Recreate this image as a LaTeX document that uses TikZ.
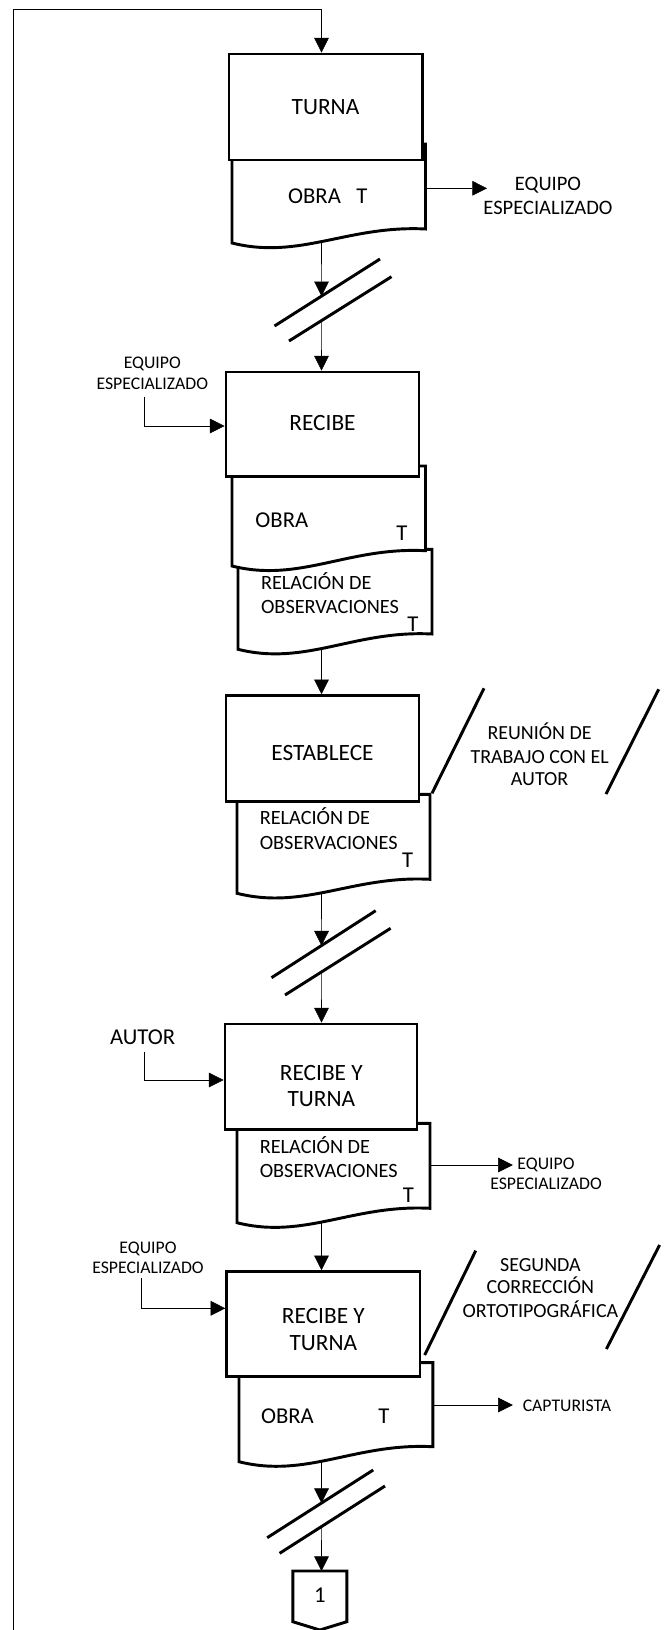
\documentclass[tikz,border=0pt]{standalone}
\usepackage{fontspec}
\setmainfont{Carlito}
\usetikzlibrary{arrows.meta,backgrounds}
\begin{document}
\begin{tikzpicture}[x=0.75pt,y=-0.75pt,line width=2.2pt,
 arr/.style={-{Triangle[length=11pt,width=11pt]}},
 pbox/.style={draw,fill=white,inner sep=0pt},
 doc/.style={draw,fill=white},
 tbox/.style={inner sep=0pt,font=\fontsize{17.5pt}{20pt}\selectfont},
 tdoc/.style={inner sep=0pt,font=\fontsize{17pt}{20pt}\selectfont},
 trel/.style={inner sep=0pt,font=\fontsize{15.2pt}{18pt}\selectfont},
 tnote/.style={inner sep=0pt,font=\fontsize{15pt}{18pt}\selectfont},
 tsmall/.style={inner sep=0pt,font=\fontsize{13.3pt}{16pt}\selectfont},
 tmed/.style={inner sep=0pt,font=\fontsize{15.4pt}{18pt}\selectfont},
]
\useasboundingbox (0,0) rectangle (665,1630);

% ---------- block 1 ----------
\draw[doc] (232,144) -- (425.5,144) -- (425.5,229) .. controls (348.1,225) and (299.7,260) .. (232,243) -- cycle;
\node[pbox,minimum width=145.1pt,minimum height=79.5pt] (B1) at (325.75,107) {};
\node[tbox,anchor=base] (tB1) at (325.5,114.2) {TURNA};
\node[tdoc,anchor=base] (tD1) at (314.5,204) {OBRA};
\node[tdoc,anchor=base] (tD1t) at (362,204) {T};
\node[tmed,anchor=base] (e1a) at (548,190.9) {EQUIPO};
\node[tmed,anchor=base] (e1b) at (548,214.9) {ESPECIALIZADO};
\coordinate (d1r) at (425.5,188.3);
\coordinate (d1e) at (487,188.3);
\coordinate (d1b) at (321.5,233);

% ---------- block 2 ----------
\draw[doc] (238,549.3) -- (432,549.3) -- (432,634) .. controls (354.4,630) and (305.9,666.3) .. (238,649.3) -- cycle;
\draw[doc] (232,466) -- (425.5,466) -- (425.5,550.7) .. controls (348.1,546.7) and (299.7,583) .. (232,566) -- cycle;
\node[pbox,minimum width=144.75pt,minimum height=78.5pt] (B2) at (322.5,424.35) {};
\node[tbox,anchor=base] (tB2) at (322.5,430.8) {RECIBE};
\node[tdoc,anchor=base west] (tD2a) at (254,527.3) {OBRA};
\node[tdoc,anchor=base] (tD2at) at (402,540.6) {T};
\node[trel,anchor=base west] (tD2b1) at (259.6,589.2) {RELACIÓN DE};
\node[trel,anchor=base west] (tD2b2) at (259.6,613.2) {OBSERVACIONES};
\node[tdoc,anchor=base] (tD2bt) at (412.8,631.3) {T};
\node[tsmall,anchor=base] (e2a) at (152.3,368.4) {EQUIPO};
\node[tsmall,anchor=base] (e2b) at (152.3,389) {ESPECIALIZADO};
\coordinate (i2) at (143.8,396.7);
\coordinate (d2b) at (321.5,640);

% ---------- block 3 ----------
\draw[doc] (237,794.3) -- (430,794.3) -- (430,879.3) .. controls (352.8,875.3) and (304.6,910.3) .. (237,893.3) -- cycle;
\node[pbox,minimum width=144.75pt,minimum height=79.5pt] (B3) at (322.5,748.7) {};
\node[tbox,anchor=base] (tB3) at (322.5,760.2) {ESTABLECE};
\node[trel,anchor=base west] (tD31) at (258.3,824.2) {RELACIÓN DE};
\node[trel,anchor=base west] (tD32) at (258.3,849.8) {OBSERVACIONES};
\node[tdoc,anchor=base] (tD3t) at (407.7,867.3) {T};
\node[tnote,anchor=base] (n1a) at (539.6,739.1) {REUNIÓN DE};
\node[tnote,anchor=base] (n1b) at (539.6,763.1) {TRABAJO CON EL};
\node[tnote,anchor=base] (n1c) at (539.6,785.7) {AUTOR};
\draw (432,793.3) -- (484,688.3);
\draw (606,794) -- (658.7,689.3);
\coordinate (d3b) at (321.5,884);

% ---------- block 4 ----------
\draw[doc] (237,1123.3) -- (430,1123.3) -- (430,1208.3) .. controls (352.8,1204.3) and (304.6,1239.7) .. (237,1222.7) -- cycle;
\node[pbox,minimum width=144pt,minimum height=79pt] (B4) at (321,1076.65) {};
\node[tbox,anchor=base] (tB4a) at (321.3,1080.2) {RECIBE Y};
\node[tbox,anchor=base] (tB4b) at (321.3,1106.8) {TURNA};
\node[trel,anchor=base west] (tD41) at (258.3,1153.2) {RELACIÓN DE};
\node[trel,anchor=base west] (tD42) at (258.3,1177.2) {OBSERVACIONES};
\node[tdoc,anchor=base] (tD4t) at (408.5,1202.3) {T};
\node[tdoc,anchor=base] (aut) at (142.6,1044.4) {AUTOR};
\node[tsmall,anchor=base] (e4a) at (546,1169) {EQUIPO};
\node[tsmall,anchor=base] (e4b) at (546,1189.7) {ESPECIALIZADO};
\coordinate (i4) at (143.8,1051.7);
\coordinate (d4r) at (430,1165);
\coordinate (d4e) at (512.8,1165);
\coordinate (d4b) at (321.5,1213);

% ---------- block 5 ----------
\draw[doc] (239,1362.7) -- (432.8,1362.7) -- (432.8,1446.7) .. controls (355.3,1442.7) and (306.8,1478.7) .. (239,1461.7) -- cycle;
\node[pbox,minimum width=144.9pt,minimum height=78.75pt] (B5) at (323.4,1324.2) {};
\node[tbox,anchor=base] (tB5a) at (323.4,1323.5) {RECIBE Y};
\node[tbox,anchor=base] (tB5b) at (323.4,1350.8) {TURNA};
\node[tdoc,anchor=base west] (tD5) at (259.6,1423.3) {OBRA};
\node[tdoc,anchor=base] (tD5t) at (383.8,1423.3) {T};
\node[tsmall,anchor=base] (e5a) at (148,1253) {EQUIPO};
\node[tsmall,anchor=base] (e5b) at (148,1273.4) {ESPECIALIZADO};
\node[tnote,anchor=base] (n2a) at (540.4,1271.4) {SEGUNDA};
\node[tnote,anchor=base] (n2b) at (540.4,1293.7) {CORRECCIÓN};
\node[tnote,anchor=base] (n2c) at (540.4,1317.1) {ORTOTIPOGRÁFICA};
\draw (424.7,1355) -- (475.7,1250.7);
\draw (606.4,1349) -- (659.6,1245);
\node[tsmall,anchor=base west] (cap) at (521.3,1411.4) {CAPTURISTA};
\coordinate (i5) at (141.7,1278.3);
\coordinate (d5r) at (432.8,1405);
\coordinate (d5e) at (512.8,1405);
\coordinate (d5b) at (321.5,1452);

% ---------- off-page connector ----------
\draw[fill=white] (292.8,1571) -- (346.8,1571) -- (346.8,1621.7) -- (319.8,1630) -- (292.8,1621.7) -- cycle;
\node[tdoc,anchor=center] (one) at (319.8,1595) {1};
\coordinate (offtop) at (321.5,1571);

% ---------- break marks ----------
\coordinate (g1a) at (274.5,326);   \coordinate (g1b) at (380,259);
\coordinate (g1c) at (289,341);     \coordinate (g1d) at (391.5,276.7);
\coordinate (g2a) at (271.5,977.7); \coordinate (g2b) at (375.7,910.7);
\coordinate (g2c) at (285,995);     \coordinate (g2d) at (390.6,928.3);
\coordinate (g3a) at (267.2,1537.7);\coordinate (g3b) at (373.2,1470);
\coordinate (g3c) at (279.6,1553.3);\coordinate (g3d) at (385,1486);
\draw (g1a) -- (g1b); \draw (g1c) -- (g1d);
\draw (g2a) -- (g2b); \draw (g2c) -- (g2d);
\draw (g3a) -- (g3b); \draw (g3c) -- (g3d);

% ---------- loop ----------
\coordinate (loopB) at (12.8,1630);
\coordinate (loopT) at (12.8,9.3);
\coordinate (top1) at (321.5,9.3);

\begin{pgfonlayer}{background}
\draw[arr] (loopB) -- (loopT) -- (top1) -- (top1 |- B1.north);
\draw[arr] (d1b) -- (intersection cs:first line={(g1a)--(g1b)},second line={(d1b)--(d1b |- B2.north)});
\draw[arr] (intersection cs:first line={(g1c)--(g1d)},second line={(d1b)--(d1b |- B2.north)}) -- (d1b |- B2.north);
\draw[arr] (d1r) -- (d1e);
\draw[arr] (i2) |- (B2.west |- 0,426);
\draw[arr] (d2b) -- (d2b |- B3.north);
\draw[arr] (d3b) -- (intersection cs:first line={(g2a)--(g2b)},second line={(d3b)--(d3b |- B4.north)});
\draw[arr] (intersection cs:first line={(g2c)--(g2d)},second line={(d3b)--(d3b |- B4.north)}) -- (d3b |- B4.north);
\draw[arr] (i4) |- (B4.west |- 0,1080);
\draw[arr] (d4r) -- (d4e);
\draw[arr] (d4b) -- (d4b |- B5.north);
\draw[arr] (i5) |- (B5.west |- 0,1308.3);
\draw[arr] (d5r) -- (d5e);
\draw[arr] (d5b) -- (intersection cs:first line={(g3a)--(g3b)},second line={(d5b)--(offtop)});
\draw[arr] (intersection cs:first line={(g3c)--(g3d)},second line={(d5b)--(offtop)}) -- (offtop);
\end{pgfonlayer}
\end{tikzpicture}
\end{document}
